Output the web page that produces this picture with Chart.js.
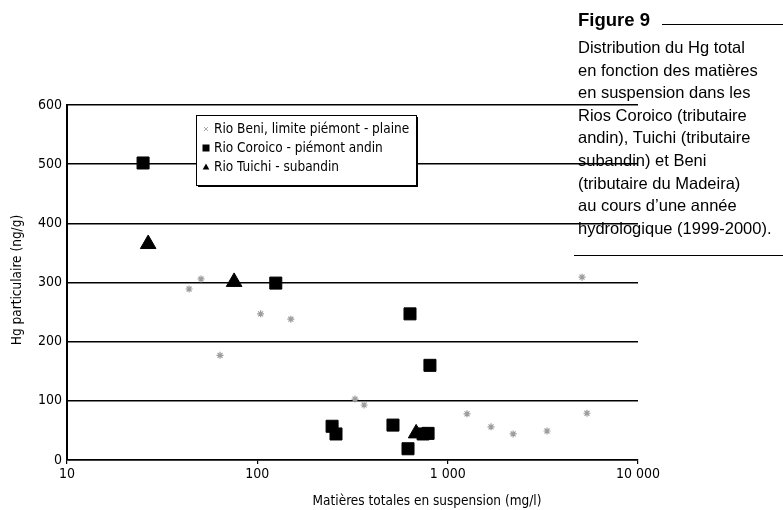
<!DOCTYPE html>
<html lang="fr">
<head>
    <meta charset="UTF-8">
    <title>Figure 9 - Hg particulaire</title>
    <script src="https://cdn.jsdelivr.net/npm/chart.js"></script>
    <style>
        body { margin: 0; background: #fff; }
        #wrap { position: relative; width: 783px; height: 510px; }
        #chart { position: absolute; left: 0; top: 0; }
        .cap { position: absolute; left: 578px; font-family: 'Liberation Sans', Arial, sans-serif; color: #000; }
        #figno { top: 9px; font-weight: bold; font-size: 18.5px; }
        #figline { position: absolute; left: 662px; top: 24px; width: 121px; border-top: 1px solid #000; }
        #captext { top: 36px; font-size: 16.5px; line-height: 22.6px; white-space: nowrap; }
        #capline { position: absolute; left: 574px; top: 255px; width: 209px; border-top: 1.5px solid #000; }
    </style>
</head>
<body>
<div id="wrap">
    <canvas id="chart" width="783" height="510"></canvas>
    <div class="cap" id="figno">Figure 9</div>
    <div id="figline"></div>
    <div class="cap" id="captext">Distribution du Hg total<br>en fonction des matières<br>en suspension dans les<br>Rios Coroico (tributaire<br>andin), Tuichi (tributaire<br>subandin) et Beni<br>(tributaire du Madeira)<br>au cours d’une année<br>hydrologique (1999-2000).</div>
    <div id="capline"></div>
</div>
<script>
    // Rio Beni, limite piémont - plaine
    const beniX = [43.8, 50.6, 63.7, 104, 150, 326, 364, 1264, 1690, 2208, 3327, 5393, 5082];
    const beniY = [289, 306, 177, 247, 238, 103, 93, 78, 56, 44, 49, 79, 309];
    // Rio Coroico - piémont andin
    const coroicoX = [25.1, 125, 634, 807, 247, 259, 516, 619, 743, 789];
    const coroicoY = [502, 299, 247, 160, 57, 44, 59, 19, 44, 45];
    // Rio Tuichi - subandin
    const tuichiX = [26.7, 75.5, 683];
    const tuichiY = [365, 301, 45];

    const seriesLabels = ['Rio Beni, limite piémont - plaine', 'Rio Coroico - piémont andin', 'Rio Tuichi - subandin'];
    const xTickValues = [10, 100, 1000, 10000];
    const xTickLabels = ['10', '100', '1 000', '10 000'];
    const xTitle = 'Matières totales en suspension (mg/l)';
    const yTitle = 'Hg particulaire (ng/g)';

    const FONT = "'Liberation Sans Narrow', 'DejaVu Sans Condensed', 'Liberation Sans', sans-serif";

    const pts = (xs, ys) => xs.map((x, i) => ({x: x, y: ys[i]}));

    function marker(ctx, style, x, y, s) {
        ctx.beginPath();
        if (style === 'rect') {
            ctx.fillStyle = '#000';
            ctx.fillRect(x - s, y - s, 2 * s, 2 * s);
        } else if (style === 'triangle') {
            ctx.fillStyle = '#000';
            ctx.moveTo(x, y - s * 1.2);
            ctx.lineTo(x + s * 1.1, y + s * 0.8);
            ctx.lineTo(x - s * 1.1, y + s * 0.8);
            ctx.closePath();
            ctx.fill();
        } else {
            ctx.strokeStyle = '#aaa';
            ctx.lineWidth = 1;
            ctx.moveTo(x - s, y - s); ctx.lineTo(x + s, y + s);
            ctx.moveTo(x + s, y - s); ctx.lineTo(x - s, y + s);
            ctx.stroke();
        }
    }

    const extras = {
        id: 'extras',
        afterDraw(chart) {
            const ctx = chart.ctx;
            ctx.save();
            ctx.fillStyle = '#000';
            ctx.font = '13.5px ' + FONT;
            ctx.textAlign = 'center';
            ctx.textBaseline = 'middle';
            ctx.fillText(xTitle, 427, 501);
            ctx.save();
            ctx.translate(17, 280);
            ctx.rotate(-Math.PI / 2);
            ctx.fillText(yTitle, 0, 0);
            ctx.restore();

            // legend box with shadow
            const lx = 196, ly = 115, lw = 220, lh = 70;
            ctx.fillStyle = '#000';
            ctx.fillRect(lx + 2, ly + 2, lw, lh);
            ctx.fillStyle = '#fff';
            ctx.fillRect(lx, ly, lw, lh);
            ctx.strokeStyle = '#000';
            ctx.lineWidth = 1;
            ctx.strokeRect(lx + 0.5, ly + 0.5, lw, lh);
            const styles = ['star', 'rect', 'triangle'];
            const sizes = [2, 3.5, 3];
            ctx.font = '13.5px ' + FONT;
            ctx.textAlign = 'left';
            chart.data.datasets.forEach((ds, i) => {
                const yy = ly + 14 + i * 19;
                marker(ctx, styles[i], lx + 10, yy, sizes[i]);
                ctx.fillStyle = '#000';
                ctx.fillText(ds.label, lx + 18, yy);
            });
            ctx.restore();
        }
    };

    new Chart(document.getElementById('chart').getContext('2d'), {
        type: 'scatter',
        data: {datasets: [{label: seriesLabels[0],
                           data: pts(beniX, beniY),
                           pointStyle: 'star',
                           radius: 3.5,
                           borderColor: '#9c9c9c',
                           backgroundColor: '#c8c8c8',
                           borderWidth: 1.2},
                          {label: seriesLabels[1],
                           data: pts(coroicoX, coroicoY),
                           pointStyle: 'rect',
                           radius: 8.5,
                           borderColor: '#000',
                           backgroundColor: '#000',
                           borderWidth: 1},
                          {label: seriesLabels[2],
                           data: pts(tuichiX, tuichiY),
                           pointStyle: 'triangle',
                           radius: 9,
                           borderColor: '#000',
                           backgroundColor: '#000',
                           borderWidth: 1}]},
        options: {
            responsive: false,
            animation: false,
            layout: {padding: {top: 105, right: 145, left: 0, bottom: 0}},
            plugins: {legend: {display: false}, tooltip: {enabled: false}},
            scales: {
                x: {type: 'logarithmic',
                    min: 10, max: 10000,
                    afterBuildTicks: (s) => { s.ticks = xTickValues.map(v => ({value: v})); },
                    afterFit: (s) => { s.height = 50; },
                    ticks: {color: '#000', font: {family: FONT, size: 14}, padding: 2, maxRotation: 0,
                            callback: (v) => xTickLabels[xTickValues.indexOf(v)]},
                    grid: {drawOnChartArea: false, drawTicks: true, tickLength: 4, color: '#000', lineWidth: 1.2},
                    border: {color: '#000', width: 1.5}},
                y: {min: 0, max: 600,
                    afterFit: (s) => { s.width = 67; },
                    ticks: {stepSize: 100, color: '#000', font: {family: FONT, size: 14}, padding: 5},
                    grid: {color: '#000', lineWidth: 1.4, drawTicks: false},
                    border: {color: '#000', width: 2}}
            }
        },
        plugins: [extras]
    });
</script>
</body>
</html>
